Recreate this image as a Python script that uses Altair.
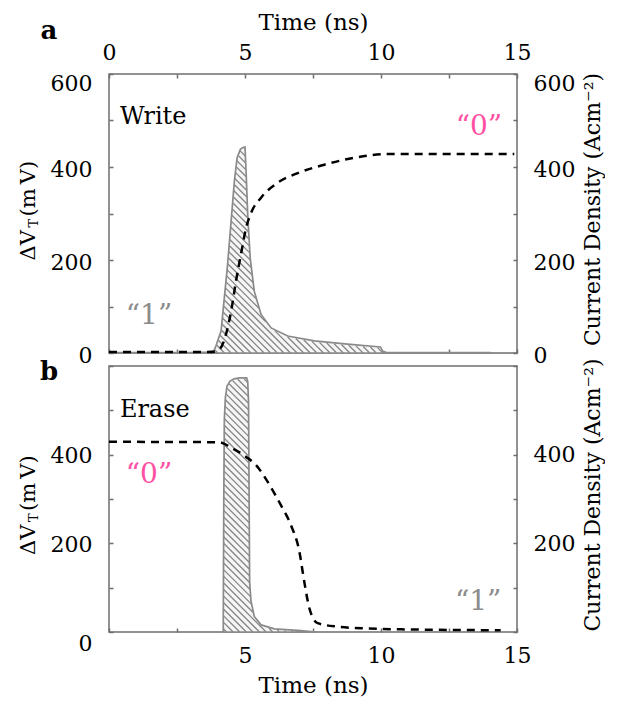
import altair as alt
import numpy as np
import pandas as pd

# ---------------- data ----------------
# (a) Write : current density pulse (hatched) and threshold shift (dashed)
a_cur_t = [0.0, 3.0, 3.6, 3.86, 3.93, 4.12, 4.24, 4.36, 4.49, 4.61, 4.71, 4.83, 4.92, 5.0,
           5.04, 5.10, 5.19, 5.34, 5.59, 5.96, 6.57, 7.55, 8.77, 9.98, 10.06, 10.2, 14.0]
a_cur_j = [1, 1, 2, 5, 15, 47, 119, 190, 284, 370, 420, 438, 442, 443,
           391, 298, 205, 133, 83, 54, 36.5, 26, 19, 13, 4, 1, 1]
a_dv_t = [0.0, 3.75, 4.06, 4.30, 4.49, 4.67, 4.85, 5.04, 5.22, 5.59, 6.20, 6.94, 7.92, 9.02, 10.24, 14.9]
a_dv_v = [2, 2, 8, 40, 90, 155, 212, 269, 301, 334, 366, 387, 405, 420, 428, 428]

# (b) Erase
b_cur_t = [4.20, 4.22, 4.24, 4.28, 4.34, 4.45, 4.60, 4.80, 5.06, 5.10, 5.13, 5.17, 5.22,
           5.34, 5.59, 6.08, 7.06, 7.6]
b_cur_j = [0, 300, 480, 530, 555, 566, 571, 573, 573, 565, 520, 113, 70,
           35, 16, 7, 3, 0]
b_dv_t = [0.0, 4.06, 4.49, 5.04, 5.40, 5.83, 6.32, 6.69, 7.00, 7.18, 7.37, 7.67, 8.41, 9.51, 10.74, 14.4]
b_dv_v = [429, 428, 416, 395, 377, 339, 286, 241, 181, 113, 53, 20, 12, 8, 6, 4]

# annotations (label, time, value)
a_notes_black = (["Write"], [0.40], [508])
a_notes_pink = (["\u201c0\u201d"], [13.6], [486])
a_notes_grey = (["\u201c1\u201d"], [1.47], [80])
b_notes_black = (["Erase"], [0.40], [501])
b_notes_pink = (["\u201c0\u201d"], [1.47], [354])
b_notes_grey = (["\u201c1\u201d"], [13.57], [68])

X_TICKS = [0, 2.5, 5, 7.5, 10, 12.5, 15]
Y_TICKS = [0, 100, 200, 300, 400, 500, 600]

# ---------------- styling ----------------
FONT = "DejaVu Serif"
W = 408
HA = 279
HB = 266
PINK = "#ff4fa3"
GREY = "#8c8c8c"
FRAME = "#6e6e6e"
LS = 22  # tick label size


def hatch_segments(ts, js, H, spacing_px=6.6):
    """Diagonal hatch lines clipped to the area under the (linear) curve."""
    ts = np.asarray(ts, float)
    js = np.asarray(js, float)
    pxn = W / 15.0
    pxu = H / 600.0
    k = pxn / pxu
    step = spacing_px / pxn
    top = js.max()
    rows = []
    c = ts[0] + step / 2
    while c < ts[-1] + top / k:
        x = np.linspace(c - top / k, c, 4000)
        y = k * (c - x)
        f = np.interp(x, ts, js, left=0.0, right=0.0)
        inside = (y <= f - 2.0) & (f > 2.0)
        d = np.diff(np.concatenate([[0], inside.astype(int), [0]]))
        starts = np.flatnonzero(d == 1)
        ends = np.flatnonzero(d == -1)
        for s, e in zip(starts, ends):
            if e - s > 3:
                rows.append({"x": x[s], "y": y[s], "x2": x[e - 1], "y2": y[e - 1]})
        c += step
    return pd.DataFrame(rows)


def y_axis(orient, expr, pad, offset_test=None):
    kw = dict(orient=orient, values=Y_TICKS, labelExpr=expr, tickSize=4, offset=-4,
              domain=False, grid=False, labelPadding=pad, labelFont=FONT,
              labelFontSize=LS, labelColor="black", tickColor=FRAME, tickWidth=1.5,
              labelOverlap=False, labelFlush=False, title=None)
    if offset_test:
        kw["labelOffset"] = {"condition": {"test": offset_test[0], "value": offset_test[1]},
                             "value": offset_test[2]}
    return alt.Axis(**kw)


def x_axis(orient, expr, pad, title=None, labels=True, title_pad=8):
    kw = dict(orient=orient, values=X_TICKS, tickSize=4, offset=-4, domain=False, grid=False,
              labelPadding=pad, labelFont=FONT, labelFontSize=LS, labelColor="black",
              tickColor=FRAME, tickWidth=1.5, labelOverlap=False, labelFlush=False,
              labels=labels)
    if labels:
        kw["labelExpr"] = expr
    if title:
        kw.update(title=title, titleFont=FONT, titleFontSize=23, titleFontWeight="normal",
                  titleColor="black", titlePadding=title_pad)
    else:
        kw["title"] = None
    return alt.Axis(**kw)


def px_text(label, x, y, size, angle=0, align="center", baseline="middle", bold=False,
            color="black"):
    df = pd.DataFrame({"label": [label]})
    return alt.Chart(df).mark_text(font=FONT, fontSize=size, angle=angle, align=align,
                                   baseline=baseline, color=color,
                                   fontWeight="bold" if bold else "normal").encode(
        x=alt.value(x), y=alt.value(y), text="label:N")


def panel(cur_t, cur_j, dv_t, dv_v, notes, H, ax_x_main, ax_y_main, ax_x_other, ax_y_other,
          letter, letter_y, title_shift):
    xs = alt.Scale(domain=[0, 15], nice=False, zero=False)
    ys = alt.Scale(domain=[0, 600], nice=False, zero=False)

    def X(f):
        return alt.X(f, type="quantitative", scale=xs, axis=ax_x_main)

    def Y(f):
        return alt.Y(f, type="quantitative", scale=ys, axis=ax_y_main)

    cur = pd.DataFrame({"t": cur_t, "j": cur_j})
    dv = pd.DataFrame({"t": dv_t, "v": dv_v})
    hat = hatch_segments(cur_t, cur_j, H)

    fill = alt.Chart(cur).mark_area(fill="#f6f6f6", interpolate="linear").encode(x=X("t"), y=Y("j"))
    hatch = alt.Chart(hat).mark_rule(color="#858585", strokeWidth=1.3).encode(
        x=X("x"), y=Y("y"), x2="x2", y2="y2")
    outline = alt.Chart(cur).mark_area(fillOpacity=0, stroke="#8a8a8a", strokeWidth=1.7,
                                       interpolate="linear").encode(x=X("t"), y=Y("j"))
    line = alt.Chart(dv).mark_line(color="black", strokeWidth=2.5, strokeDash=[8, 6],
                                   interpolate="monotone").encode(x=X("t"), y=Y("v"))

    layers = [fill, hatch, outline, line]
    for (labs, ts, vs), color, size, align in notes:
        df = pd.DataFrame({"label": labs, "t": ts, "v": vs})
        layers.append(alt.Chart(df).mark_text(font=FONT, fontSize=size, color=color, align=align,
                                              baseline="middle").encode(
            x=X("t"), y=Y("v"), text="label:N"))

    # panel letter
    layers.append(px_text(letter, -60, letter_y, 26, baseline="alphabetic", bold=True))
    # left title  ΔV_T (m V) built from pieces (reads bottom to top)
    yb = H / 2 + 52 + title_shift
    layers.append(px_text("\u0394V", -80, yb, 21, angle=270, align="left"))
    layers.append(px_text("T", -75, yb - 33, 13, angle=270, align="left"))
    layers.append(px_text("(m\u2009V)", -80, yb - 44, 21, angle=270, align="left"))
    # right title
    layers.append(px_text("Current Density (Acm\u207b\u00b2)", W + 76, H / 2 - 4, 22, angle=270))

    inner = alt.layer(*layers)
    dummy = alt.Chart(dv).mark_line(opacity=0).encode(
        x=alt.X("t:Q", scale=xs, axis=ax_x_other),
        y=alt.Y("v:Q", scale=ys, axis=ax_y_other))
    return alt.layer(inner, dummy).resolve_scale(x="independent", y="independent").properties(
        width=W, height=H)


notes_a = [(a_notes_black, "black", 24, "left"), (a_notes_pink, PINK, 28, "center"),
           (a_notes_grey, GREY, 28, "center")]
notes_b = [(b_notes_black, "black", 24, "left"), (b_notes_pink, PINK, 28, "center"),
           (b_notes_grey, GREY, 28, "center")]

pa = panel(a_cur_t, a_cur_j, a_dv_t, a_dv_v, notes_a, HA,
           x_axis("top", "datum.value % 5 == 0 ? datum.label : ''", 10, title="Time (ns)",
                  title_pad=7),
           y_axis("left", "datum.value % 200 == 0 ? datum.label : ''", 17,
                  ("datum.value == 600", 9, 2)),
           x_axis("bottom", "", 0, labels=False),
           y_axis("right", "datum.value % 200 == 0 ? datum.label : ''", 16,
                  ("datum.value == 600", 9, 2)),
           "a", -35, -5)

pb = panel(b_cur_t, b_cur_j, b_dv_t, b_dv_v, notes_b, HB,
           x_axis("bottom", "(datum.value % 5 == 0 && datum.value > 0) ? datum.label : ''", 13,
                  title="Time (ns)", title_pad=8),
           y_axis("left", "(datum.value % 200 == 0 && datum.value < 600) ? datum.label : ''", 17,
                  ("datum.value == 0", 11, 1)),
           None,
           y_axis("right", "(datum.value % 200 == 0 && datum.value > 0 && datum.value < 600) ? datum.label : ''", 16),
           "b", 14, 4)

chart = alt.vconcat(pa, pb, spacing=13, bounds="flush").configure_view(
    stroke=FRAME, strokeWidth=1.5).properties(
    padding={"left": 9, "top": 2, "right": 0, "bottom": 0}, background="white")

chart.save("out.html", embed_options={"renderer": "svg", "actions": False})
